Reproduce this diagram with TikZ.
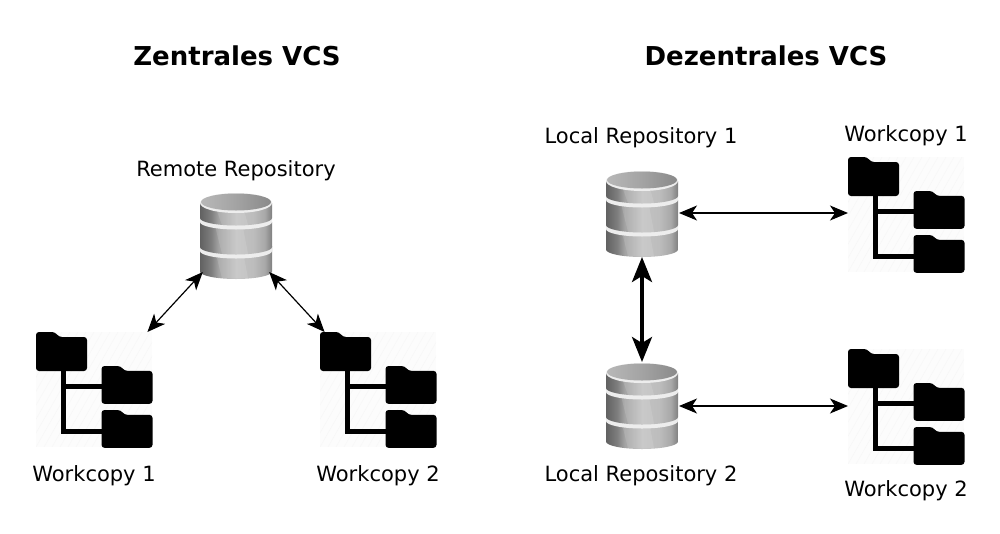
\documentclass[tikz,border=0pt]{standalone}
\usepackage{fontspec}
\setmainfont{DejaVu Sans}
\usetikzlibrary{arrows.meta}
\pgfdeclarehorizontalshading{dbbody}{100bp}{color(0bp)=(black!62);color(25bp)=(black!62);color(33bp)=(black!50);color(38bp)=(black!36);color(50bp)=(black!24);color(62bp)=(black!26);color(70bp)=(black!34);color(75bp)=(black!50);color(100bp)=(black!50)}
\pgfdeclarehorizontalshading{dbtop}{100bp}{color(0bp)=(black!28);color(25bp)=(black!28);color(50bp)=(black!36);color(75bp)=(black!46);color(100bp)=(black!46)}
\newcommand{\dbseg}[2]{%
  \path[shading=dbbody] (-36,#1) -- (-36,#2) arc[start angle=180,end angle=360,x radius=36,y radius=-7.5] -- (36,#1) -- cycle;
  \fill[white,opacity=.12] (-22,#1) -- (6,#1) -- ++(6,{#2-#1+7}) -- ++(-26,0) -- cycle;
}
\newcommand{\dbband}[1]{%
  \fill[black!7] (-36,#1) -- (-36,#1+4) arc[start angle=180,end angle=360,x radius=36,y radius=-7.5] -- (36,#1) -- cycle;
}
\tikzset{
  x=1pt,y=-1pt,
  anchorbox/.style={inner sep=0pt,outer sep=0pt,minimum width=#1},
  heading/.style={font=\bfseries\fontsize{26}{32}\selectfont},
  caption/.style={font=\fontsize{21}{25}\selectfont},
  thinlink/.style={line width=1.2pt,{Stealth[length=18pt,width=15pt,inset=5pt]}-{Stealth[length=18pt,width=15pt,inset=5pt]}},
  thicklink/.style={line width=3.5pt,{Stealth[length=25pt,width=20pt,inset=6pt]}-{Stealth[length=25pt,width=20pt,inset=6pt]}},
  dbpic/.pic={
    \dbseg{10}{35.5}
    \dbband{11}
    \dbseg{-14}{11}
    \dbband{-18}
    \dbseg{-33}{-18}
    \fill[black!7] (-36,-33) arc[start angle=180,end angle=360,x radius=36,y radius=-10] arc[start angle=0,end angle=180,x radius=36,y radius=-10] -- cycle;
    \path[shading=dbtop] (-35,-34) arc[start angle=180,end angle=360,x radius=35,y radius=-8.5] arc[start angle=0,end angle=180,x radius=35,y radius=-8.5] -- cycle;
  },
  folderglyph/.pic={
    \fill[black,rounded corners=3pt] (0,0) -- (0,39) -- (51,39) -- (51,5) -- (23,5) -- (19,0) -- cycle;
  },
  folderpic/.pic={
    \begin{scope}
      \clip (0,0) rectangle (116,115);
      \fill[black!1] (0,0) rectangle (116,115);
      \foreach \k in {-6,...,26}{\draw[black!3,line width=.5pt] (\k*8,115) -- (\k*8+66,0);}
    \end{scope}
    \draw[black,line width=5pt,line cap=butt] (27,36) -- (27,99) -- (70,99);
    \draw[black,line width=5pt] (27,54) -- (70,54);
    \path (0,0) pic {folderglyph};
    \path (65.5,34) pic[yscale=.97] {folderglyph};
    \path (65.5,78) pic[yscale=.97] {folderglyph};
  }
}
\begin{document}
\begin{tikzpicture}
\useasboundingbox (0,0) rectangle (1000,533);
% titles
\node[heading] (t1) at (237,56) {Zentrales VCS};
\node[heading] (t2) at (766,56) {Dezentrales VCS};
% central side
\node[anchorbox=74,minimum height=72] (c) at (236,236) {};
\path (236,236) pic {dbpic};
\node[caption] (cl) at (236,171) {Remote Repository};
\node[anchorbox=116,minimum height=116] (w1) at (94,390) {};
\path (36,332) pic {folderpic};
\node[caption] (w1l) at (94,476) {Workcopy 1};
\node[anchorbox=116,minimum height=116] (w2) at (378,390) {};
\path (320,332) pic {folderpic};
\node[caption] (w2l) at (378,476) {Workcopy 2};
\draw[thinlink] (c) -- (w1);
\draw[thinlink] (c) -- (w2);
% decentral side
\node[anchorbox=74,minimum height=88] (d1) at (642,213) {};
\path (642,214) pic {dbpic};
\node[caption] (d1l) at (641,138) {Local Repository 1};
\node[anchorbox=74,minimum height=88] (d2) at (642,406) {};
\path (642,406) pic {dbpic};
\node[caption] (d2l) at (641,476) {Local Repository 2};
\node[anchorbox=116,minimum height=116] (r1) at (906,215) {};
\path (848,157) pic {folderpic};
\node[caption] (r1l) at (906,136) {Workcopy 1};
\node[anchorbox=116,minimum height=116] (r2) at (906,407) {};
\path (848,349) pic {folderpic};
\node[caption] (r2l) at (906,491) {Workcopy 2};
\draw[thinlink] (d1.east) -- (d1.east -| r1.west);
\draw[thinlink] (d2.east) -- (d2.east -| r2.west);
\draw[thicklink] (d1) -- (d2);
\end{tikzpicture}
\end{document}
